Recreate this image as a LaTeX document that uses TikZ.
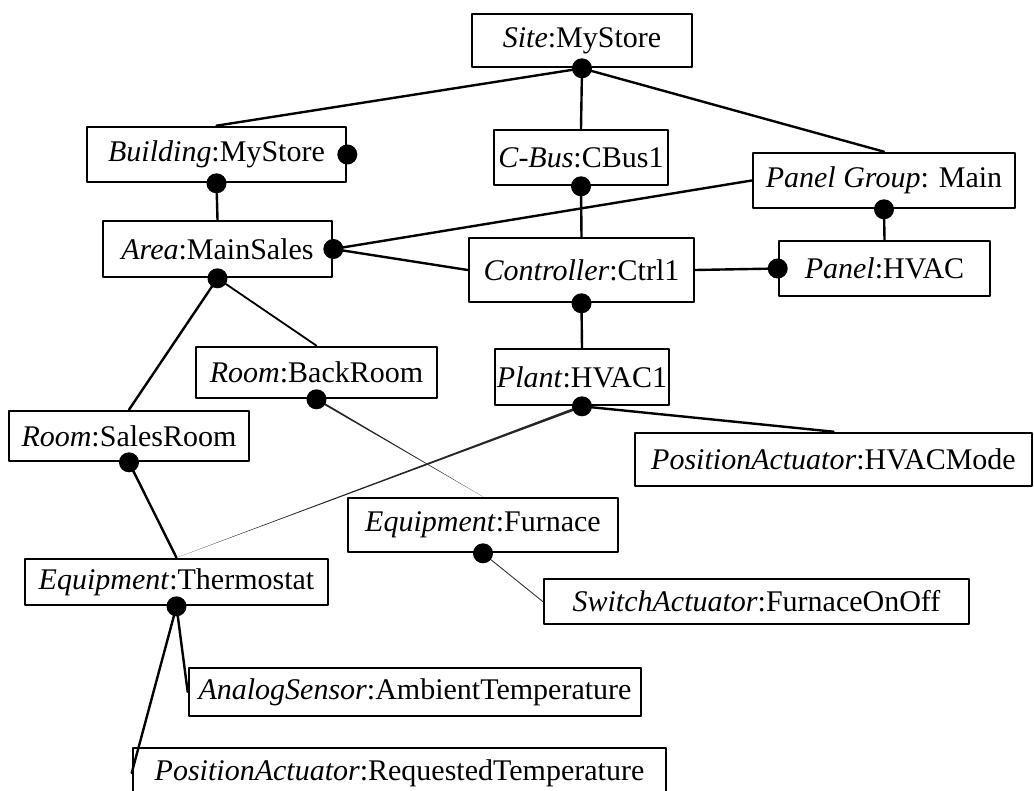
\documentclass[tikz,border=0pt]{standalone}
\usepackage{fontspec}
\setmainfont{Liberation Serif}
\usetikzlibrary{calc}

\tikzset{
  obj/.style={draw, line width=1.3pt, fill=white, inner sep=0pt,
    font=\fontsize{15}{17}\selectfont},
  link/.style={line width=1.2pt},
  thinlink/.style={line width=0.45pt, black!80}
}

\begin{document}
\begin{tikzpicture}[x=0.5pt, y=-0.5pt, line cap=round, line join=round]
    \useasboundingbox (0,0) rectangle (1034,791);

    % objects
    \node[obj, minimum width=110pt,   minimum height=26.5pt] (site)   at (582,40.5)   {\textit{Site}:MyStore};
    \node[obj, minimum width=129.5pt, minimum height=27.5pt] (bldg)   at (216.5,154.5) {\textit{Building}:MyStore};
    \node[obj, minimum width=87pt,    minimum height=27.5pt] (cbus)   at (581,157.5)  {\textit{C-Bus}:CBus1};
    \node[obj, minimum width=131pt,   minimum height=27.5pt] (pgrp)   at (884,180.5)  {\textit{Panel Group}: Main};
    \node[obj, minimum width=114.5pt, minimum height=28pt]   (area)   at (217.5,249)  {\textit{Area}:MainSales};
    \node[obj, minimum width=112.5pt, minimum height=32pt]   (ctrl)   at (581.5,270)  {\textit{Controller}:Ctrl1};
    \node[obj, minimum width=105.5pt, minimum height=27.5pt] (panel)  at (884.5,268.5) {\textit{Panel}:HVAC};
    \node[obj, minimum width=120.5pt, minimum height=25.5pt] (back)   at (316.5,372.5) {\textit{Room}:BackRoom};
    \node[obj, minimum width=87pt,    minimum height=28pt]   (plant)  at (582,377)    {\textit{Plant}:HVAC1};
    \node[obj, minimum width=120pt,   minimum height=25pt]   (sales)  at (129,436)    {\textit{Room}:SalesRoom};
    \node[obj, minimum width=198.5pt, minimum height=26.5pt] (mode)   at (833.5,459.5) {\textit{PositionActuator}:HVACMode};
    \node[obj, minimum width=135pt,   minimum height=27pt]   (furn)   at (483,525)    {\textit{Equipment}:Furnace};
    \node[obj, minimum width=151.5pt, minimum height=23pt]   (therm)  at (176.5,582)  {\textit{Equipment}:Thermostat};
    \node[obj, minimum width=212.5pt, minimum height=22.5pt] (switch) at (756.5,601.5) {\textit{SwitchActuator}:FurnaceOnOff};
    \node[obj, minimum width=226pt,   minimum height=24pt]   (ana)    at (415,692)    {\textit{AnalogSensor}:AmbientTemperature};
    \node[obj, minimum width=266.5pt, minimum height=25pt]   (req)    at (399.5,773)  {\textit{PositionActuator}:RequestedTemperature};

    % links
    \draw[link] (site.south)--(bldg.north);
    \draw[link] (site.south)--(cbus.north);
    \draw[link] (site.south)--(pgrp.north);
    \draw[link] (bldg.south)--(area.north);
    \draw[link] (cbus.south)--(ctrl.north);
    \draw[link] (area.east)--(pgrp.west);
    \draw[link] (area.east)--(ctrl.west);
    \draw[link] (ctrl.east)--(panel.west);
    \draw[link] (pgrp.south)--(panel.north);
    \draw[link] (ctrl.south)--(plant.north);
    \draw[link] (plant.south)--(mode.north);
    \draw[link, line width=0.9pt] (area.south)--(back.north);
    \draw[link] (area.south)--(sales.north);
    \draw[link] (sales.south)--(therm.north);
    \draw[link] (therm.south)--(ana.west);
    \draw[link] (therm.south)--(req.west);
    \draw[thinlink] (furn.south)--(switch.west);

    % tapered links
    \fill[black!85] ($(plant.south)!0.7pt!90:(therm.north)$) -- ($(plant.south)!0.7pt!-90:(therm.north)$) -- (therm.north) -- cycle;
    \fill[black!85] ($(back.south)!0.5pt!90:(furn.north)$) -- ($(back.south)!0.5pt!-90:(furn.north)$) -- (furn.north) -- cycle;

    % dots
    \fill (site.south) circle (5pt);
    \fill (bldg.east) circle (5pt);
    \fill (bldg.south) circle (5pt);
    \fill (cbus.south) circle (5pt);
    \fill (pgrp.south) circle (5pt);
    \fill (area.east) circle (5pt);
    \fill (area.south) circle (5pt);
    \fill (ctrl.south) circle (5pt);
    \fill (panel.west) circle (5pt);
    \fill (plant.south) circle (5pt);
    \fill (back.south) circle (5pt);
    \fill (sales.south) circle (5pt);
    \fill (furn.south) circle (5pt);
    \fill (therm.south) circle (5pt);
\end{tikzpicture}
\end{document}
